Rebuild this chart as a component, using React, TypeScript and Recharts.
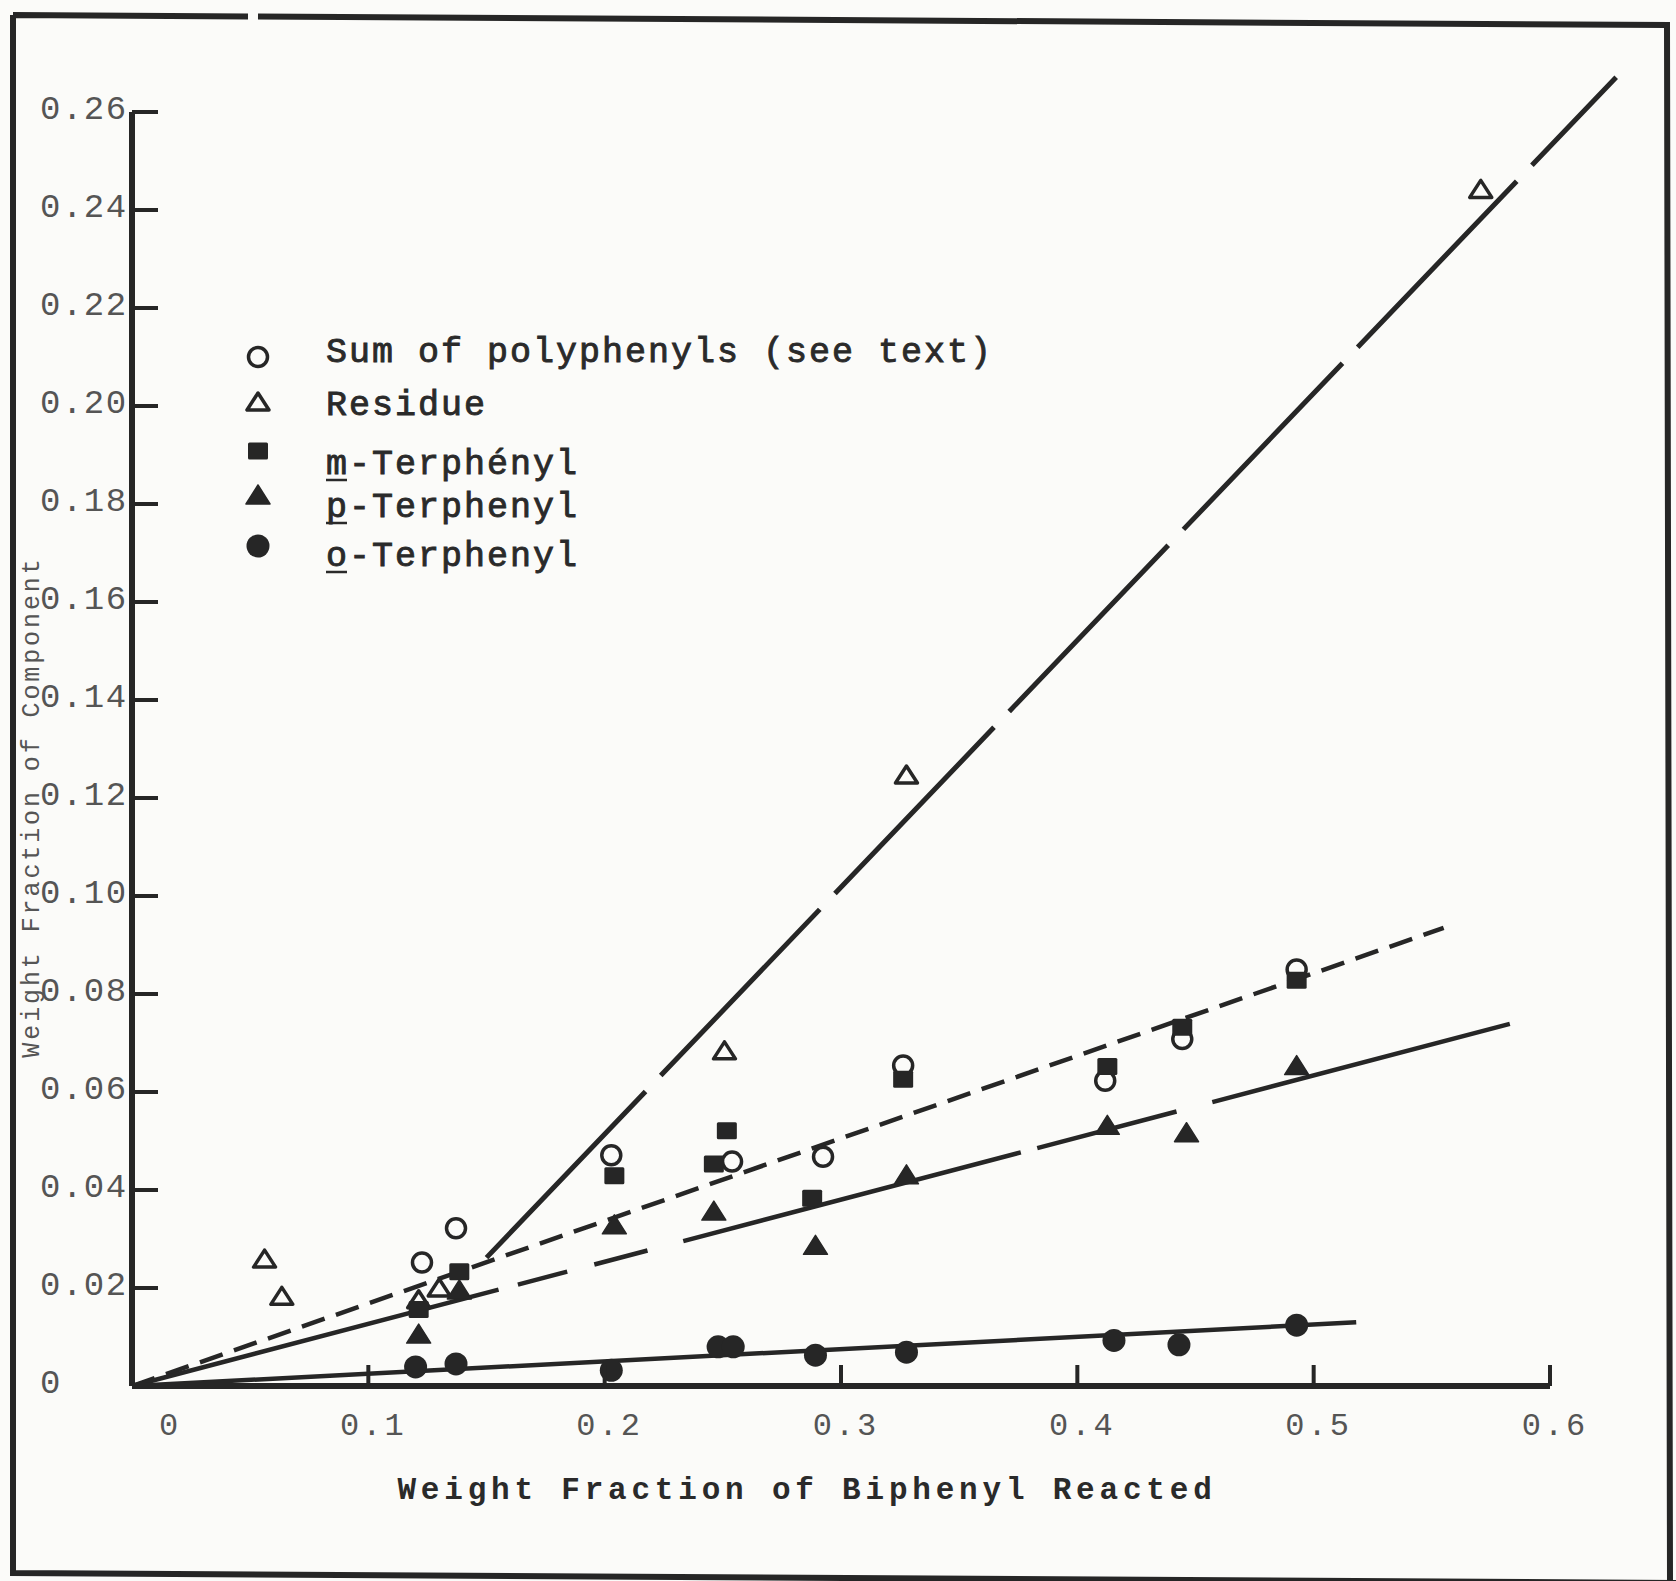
import { Legend, ReferenceLine, Scatter, ScatterChart, XAxis, YAxis } from "recharts";

// Component yields vs. weight fraction of biphenyl reacted, typewriter-plate style.

const W = 1676;
const H = 1581;
const INK = "#262626";
const TEXT_INK = "#2a2a2a";
const SOFT_INK = "#555555";
const PAPER = "#fbfbf9";
const MONO = '"Liberation Mono", "DejaVu Sans Mono", monospace';

const X_TICKS = [0, 0.1, 0.2, 0.3, 0.4, 0.5, 0.6];
const X_TICK_LABELS = ["0", "0.1", "0.2", "0.3", "0.4", "0.5", "0.6"];
const Y_TICKS = [0, 0.02, 0.04, 0.06, 0.08, 0.1, 0.12, 0.14, 0.16, 0.18, 0.2, 0.22, 0.24, 0.26];
const Y_TICK_LABELS = [
  "0", "0.02", "0.04", "0.06", "0.08", "0.10", "0.12",
  "0.14", "0.16", "0.18", "0.20", "0.22", "0.24", "0.26",
];

const sumPolyphenyls = [
  { x: 0.1227, y: 0.0252 },
  { x: 0.1371, y: 0.0322 },
  { x: 0.2028, y: 0.0471 },
  { x: 0.2539, y: 0.0458 },
  { x: 0.2924, y: 0.0468 },
  { x: 0.3263, y: 0.0654 },
  { x: 0.4118, y: 0.0623 },
  { x: 0.4444, y: 0.0708 },
  { x: 0.4928, y: 0.085 },
];

const residue = [
  { x: 0.0561, y: 0.0259 },
  { x: 0.0634, y: 0.0183 },
  { x: 0.1213, y: 0.0176 },
  { x: 0.13, y: 0.02 },
  { x: 0.2507, y: 0.0684 },
  { x: 0.3277, y: 0.1247 },
  { x: 0.5707, y: 0.2442 },
];

const mTerphenyl = [
  { x: 0.1213, y: 0.0156 },
  { x: 0.1385, y: 0.0233 },
  { x: 0.2041, y: 0.0429 },
  { x: 0.2462, y: 0.0453 },
  { x: 0.2517, y: 0.0521 },
  { x: 0.2878, y: 0.0383 },
  { x: 0.3263, y: 0.0626 },
  { x: 0.4127, y: 0.0652 },
  { x: 0.4444, y: 0.0732 },
  { x: 0.4928, y: 0.0828 },
];

const pTerphenyl = [
  { x: 0.1213, y: 0.0106 },
  { x: 0.1385, y: 0.0196 },
  { x: 0.2041, y: 0.0329 },
  { x: 0.2462, y: 0.0357 },
  { x: 0.2892, y: 0.0287 },
  { x: 0.3277, y: 0.0431 },
  { x: 0.4127, y: 0.0532 },
  { x: 0.4462, y: 0.0517 },
  { x: 0.4928, y: 0.0654 },
];

const oTerphenyl = [
  { x: 0.12, y: 0.0039 },
  { x: 0.1371, y: 0.0045 },
  { x: 0.2028, y: 0.0032 },
  { x: 0.248, y: 0.008 },
  { x: 0.2544, y: 0.008 },
  { x: 0.2892, y: 0.0063 },
  { x: 0.3277, y: 0.0069 },
  { x: 0.4155, y: 0.0093 },
  { x: 0.443, y: 0.0084 },
  { x: 0.4928, y: 0.0124 },
];

// hand-drawn fit lines, end points
const residueFit = [{ x: 0.15, y: 0.0262 }, { x: 0.628, y: 0.2671 }];
const sumFit = [{ x: 0, y: 0 }, { x: 0.555, y: 0.0935 }];
const pTerFit = [{ x: 0, y: 0 }, { x: 0.583, y: 0.0739 }];
const oTerFit = [{ x: 0, y: 0 }, { x: 0.518, y: 0.013 }];

type MarkProps = { cx?: number; cy?: number };

function OpenCircle({ cx = 0, cy = 0 }: MarkProps) {
  return <circle cx={cx} cy={cy} r={9.5} fill="none" stroke={INK} strokeWidth={3.5} />;
}

function OpenTriangle({ cx = 0, cy = 0 }: MarkProps) {
  const pts = `${cx - 11},${cy + 8} ${cx + 11},${cy + 8} ${cx},${cy - 9}`;
  return <polygon points={pts} fill="none" stroke={INK} strokeWidth={3.5} strokeLinejoin="round" />;
}

function FilledSquare({ cx = 0, cy = 0 }: MarkProps) {
  return <rect x={cx - 10} y={cy - 8.5} width={20} height={17} rx={1.5} fill={INK} />;
}

function FilledTriangle({ cx = 0, cy = 0 }: MarkProps) {
  const pts = `${cx - 12},${cy + 9} ${cx + 12},${cy + 9} ${cx},${cy - 10}`;
  return <polygon points={pts} fill={INK} stroke={INK} strokeWidth={1.5} strokeLinejoin="round" />;
}

function FilledCircle({ cx = 0, cy = 0 }: MarkProps) {
  return <circle cx={cx} cy={cy} r={11.5} fill={INK} />;
}

function XTick(props: any) {
  const { x, y, payload } = props;
  const v = payload.value as number;
  const label = X_TICK_LABELS[X_TICKS.indexOf(v)];
  return (
    <g>
      {v > 0 && <line x1={x} x2={x} y1={y} y2={y - 21} stroke={INK} strokeWidth={4} />}
      <text
        x={x + (v === 0 ? 38 : 5)}
        y={y + 40}
        textAnchor="middle"
        dominantBaseline="central"
        fontFamily={MONO}
        fontSize={32}
        letterSpacing={3}
        fill={SOFT_INK}
      >
        {label}
      </text>
    </g>
  );
}

function YTick(props: any) {
  const { x, y, payload } = props;
  const v = payload.value as number;
  const label = Y_TICK_LABELS[Y_TICKS.indexOf(v)];
  return (
    <g>
      {v > 0 && <line x1={x} x2={x + 26} y1={y} y2={y} stroke={INK} strokeWidth={4} />}
      <text
        x={x - 92}
        y={y - 2}
        dominantBaseline="central"
        fontFamily={MONO}
        fontSize={34}
        letterSpacing={1.5}
        fill={SOFT_INK}
      >
        {label}
      </text>
    </g>
  );
}

function XTitle() {
  return (
    <text
      x={807}
      y={1490}
      textAnchor="middle"
      dominantBaseline="central"
      fontFamily={MONO}
      fontWeight="bold"
      fontSize={31}
      letterSpacing={4.8}
      fill={TEXT_INK}
    >
      Weight Fraction of Biphenyl Reacted
    </text>
  );
}

function YTitle() {
  return (
    <text
      x={32}
      y={807}
      transform="rotate(-90 32 807)"
      textAnchor="middle"
      dominantBaseline="central"
      fontFamily={MONO}
      fontSize={25}
      letterSpacing={2.9}
      fill="#555555"
    >
      Weight Fraction of Component
    </text>
  );
}

const LEGEND_ROWS = [
  { lead: "", rest: "Sum  of polyphenyls (see text)", Mark: OpenCircle, markY: 357, baseY: 362 },
  { lead: "", rest: "Residue", Mark: OpenTriangle, markY: 402, baseY: 415 },
  { lead: "m", rest: "-Terphényl", Mark: FilledSquare, markY: 451, baseY: 474 },
  { lead: "p", rest: "-Terphenyl", Mark: FilledTriangle, markY: 495, baseY: 517 },
  { lead: "o", rest: "-Terphenyl", Mark: FilledCircle, markY: 546, baseY: 566 },
];

function LegendBlock() {
  const textX = 326;
  return (
    <svg width={1100} height={640} style={{ position: "absolute", left: 0, top: 0, overflow: "visible" }}>
      {LEGEND_ROWS.map((row) => (
        <g key={row.rest}>
          <row.Mark cx={258} cy={row.markY} />
          <text
            x={textX}
            y={row.baseY}
            fontFamily={MONO}
            fontSize={35}
            letterSpacing={2}
            fill={TEXT_INK}
            stroke={TEXT_INK}
            strokeWidth={0.9}
          >
            {row.lead + row.rest}
          </text>
          {row.lead && (
            <line x1={textX} x2={textX + 21} y1={row.baseY + 6} y2={row.baseY + 6} stroke={TEXT_INK} strokeWidth={2.5} />
          )}
        </g>
      ))}
    </svg>
  );
}

function Frame() {
  return (
    <svg width={W} height={H} style={{ position: "absolute", left: 0, top: 0 }}>
      <path
        d="M 13 15 L 248 16.5 M 258 16.6 L 1667 25 L 1670 1581 M 13 15 L 13 1573 L 1676 1583"
        fill="none"
        stroke={INK}
        strokeWidth={6}
      />
    </svg>
  );
}

export default function App() {
  return (
    <div style={{ position: "absolute", left: 0, top: 0, width: W, height: H, background: PAPER }}>
      <Frame />
      <div style={{ position: "absolute", left: 0, top: 0 }}>
        <ScatterChart width={W} height={H} margin={{ top: 112, right: 126, bottom: 135, left: 32 }}>
          <XAxis
            type="number"
            dataKey="x"
            domain={[0, 0.6]}
            ticks={X_TICKS}
            interval={0}
            allowDataOverflow
            height={60}
            tickSize={0}
            tickMargin={0}
            tickLine={false}
            tick={(p: any) => <XTick {...p} />}
            axisLine={{ stroke: INK, strokeWidth: 6 }}
            label={() => <XTitle />}
          />
          <YAxis
            type="number"
            dataKey="y"
            domain={[0, 0.26]}
            ticks={Y_TICKS}
            interval={0}
            allowDataOverflow
            width={100}
            tickSize={0}
            tickMargin={0}
            tickLine={false}
            tick={(p: any) => <YTick {...p} />}
            axisLine={{ stroke: INK, strokeWidth: 6 }}
            label={() => <YTitle />}
          />
          <ReferenceLine
            segment={residueFit}
            ifOverflow="visible"
            stroke={INK}
            strokeWidth={5}
            strokeDasharray="230 22"
          />
          <ReferenceLine
            segment={sumFit}
            ifOverflow="visible"
            stroke={INK}
            strokeWidth={4.5}
            strokeDasharray="24 12"
          />
          <ReferenceLine
            segment={pTerFit}
            ifOverflow="visible"
            stroke={INK}
            strokeWidth={4.5}
            strokeDasharray="379 20 51 28 55 37 349 17 144 37 420 40"
          />
          <ReferenceLine segment={oTerFit} ifOverflow="visible" stroke={INK} strokeWidth={4.5} />
          <Scatter
            name="Sum of polyphenyls (see text)"
            data={sumPolyphenyls}
            isAnimationActive={false}
            shape={(p: any) => <OpenCircle cx={p.cx} cy={p.cy} />}
          />
          <Scatter
            name="Residue"
            data={residue}
            isAnimationActive={false}
            shape={(p: any) => <OpenTriangle cx={p.cx} cy={p.cy} />}
          />
          <Scatter
            name="m-Terphenyl"
            data={mTerphenyl}
            isAnimationActive={false}
            shape={(p: any) => <FilledSquare cx={p.cx} cy={p.cy} />}
          />
          <Scatter
            name="p-Terphenyl"
            data={pTerphenyl}
            isAnimationActive={false}
            shape={(p: any) => <FilledTriangle cx={p.cx} cy={p.cy} />}
          />
          <Scatter
            name="o-Terphenyl"
            data={oTerphenyl}
            isAnimationActive={false}
            shape={(p: any) => <FilledCircle cx={p.cx} cy={p.cy} />}
          />
          <Legend
            layout="horizontal"
            verticalAlign="middle"
            align="center"
            wrapperStyle={{ left: 0, top: 0, width: 1100, height: 640 }}
            content={() => <LegendBlock />}
          />
        </ScatterChart>
      </div>
    </div>
  );
}
